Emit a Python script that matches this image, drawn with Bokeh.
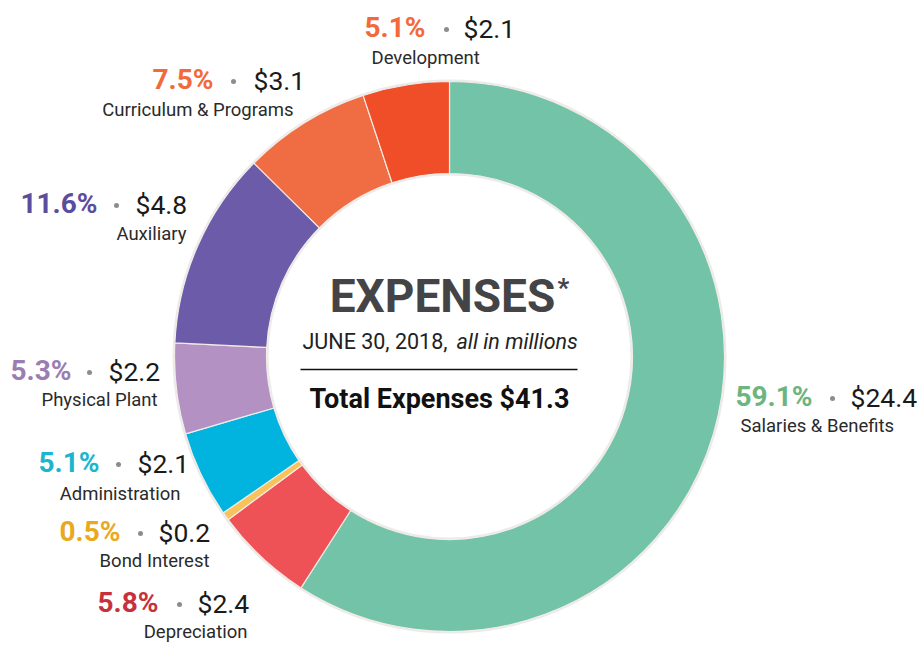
from math import pi
from bokeh.plotting import figure
from bokeh.models import Range1d, ColumnDataSource
from bokeh.core.properties import value
from bokeh.embed import file_html
from bokeh.resources import INLINE

# ---------------- data ----------------
categories = ["Salaries & Benefits", "Depreciation", "Bond Interest", "Administration",
              "Physical Plant", "Auxiliary", "Curriculum & Programs", "Development"]
amounts = [24.4, 2.4, 0.2, 2.1, 2.2, 4.8, 3.1, 2.1]          # $ millions
percents = ["59.1%", "5.8%", "0.5%", "5.1%", "5.3%", "11.6%", "7.5%", "5.1%"]
total_label = "$41.3"

# ---------------- styles ----------------
slice_colors = ["#72C3A7", "#EE5257", "#F7C35A", "#00B4DF",
                "#B391C2", "#6B5BA8", "#F06C43", "#F04E28"]
pct_colors = ["#6DB47E", "#C8313C", "#E8A91E", "#1BB6CE",
              "#9A7EB2", "#5C4C9E", "#F2693A", "#F2693A"]

W, H = 917, 648
def sx(x):  # screen x -> data x
    return x
def sy(y):  # screen y -> data y
    return H - y

FONT = "Roboto"
SHIFT = 0.38  # empirical baseline correction (em)

p = figure(width=W, height=H, x_range=Range1d(0, W), y_range=Range1d(0, H),
           output_backend="svg", toolbar_location=None, min_border=0)
p.axis.visible = False
p.grid.visible = False
p.outline_line_color = None
p.background_fill_color = "white"

def txt(x, base, s, size, color, align="left", style="normal"):
    p.text(x=[sx(x)], y=[sy(base - SHIFT * size)], text=[s], text_font=value(FONT),
           text_font_style=style, text_font_size=f"{size}px", text_color=color,
           text_align=align, text_baseline="alphabetic")

# ---------------- donut ----------------
cx, cy = sx(449), sy(356)
R_out, R_in = 275, 183
total = sum(amounts)
starts, ends = [], []
a = pi / 2
for v in amounts:
    starts.append(a)
    a -= v / total * 2 * pi
    ends.append(a)

# soft halo
p.annular_wedge(x=cx, y=cy, inner_radius=R_in - 2, outer_radius=R_out + 2,
                start_angle=0, end_angle=2 * pi, color="#ebebeb", line_color=None)
src = ColumnDataSource(dict(start=starts, end=ends, color=slice_colors))
p.annular_wedge(x=cx, y=cy, inner_radius=R_in, outer_radius=R_out,
                start_angle="start", end_angle="end", direction="clock",
                fill_color="color", line_color="#f3ece6", line_width=1.2, source=src)

# ---------------- labels ----------------
# (pct right edge, dot x, value left edge, baseline1, name x, name align, baseline2) in screen px
layout = [
    (812, 832, 850, 407, 740, "left", 433),
    (158, 179, 197, 613, 247, "right", 639),
    (120, 140, 158, 542, 209, "right", 568),
    (99, 118, 137, 473, 180, "right", 501),
    (71, 89, 108, 381, 157, "right", 407),
    (97, 116, 135, 214, 186, "right", 241),
    (213, 233, 253, 90, 293, "right", 117),
    (425, 446, 463, 38, 371, "left", 65),
]

for i, (pe, dx, vs, b1, nx, al, b2) in enumerate(layout):
    txt(pe, b1, percents[i], 28, pct_colors[i], "right", "bold")
    p.scatter(x=[sx(dx)], y=[sy(b1 - 9)], size=5, color="#8c8c8c", line_color=None)
    txt(vs, b1, "$" + f"{amounts[i]:.1f}", 26.5, "#1a1a1a", "left")
    txt(nx, b2, categories[i], 18.5, "#2a2a2a", al)

# ---------------- center text ----------------
txt(442, 313, "EXPENSES", 46, "#444446", "center", "bold")
txt(557, 297, "*", 26, "#444446", "left", "bold")
txt(302, 349, "JUNE 30, 2018,", 21.5, "#222222", "left")
txt(456, 349, "all in millions", 21.5, "#222222", "left", "italic")
p.segment(x0=[sx(300)], y0=[sy(369)], x1=[sx(577)], y1=[sy(369)],
          line_color="#111111", line_width=1.6)
txt(439, 409, "Total Expenses " + total_label, 27, "#111111", "center", "bold")

open("out.html", "w").write(file_html(p, INLINE))
